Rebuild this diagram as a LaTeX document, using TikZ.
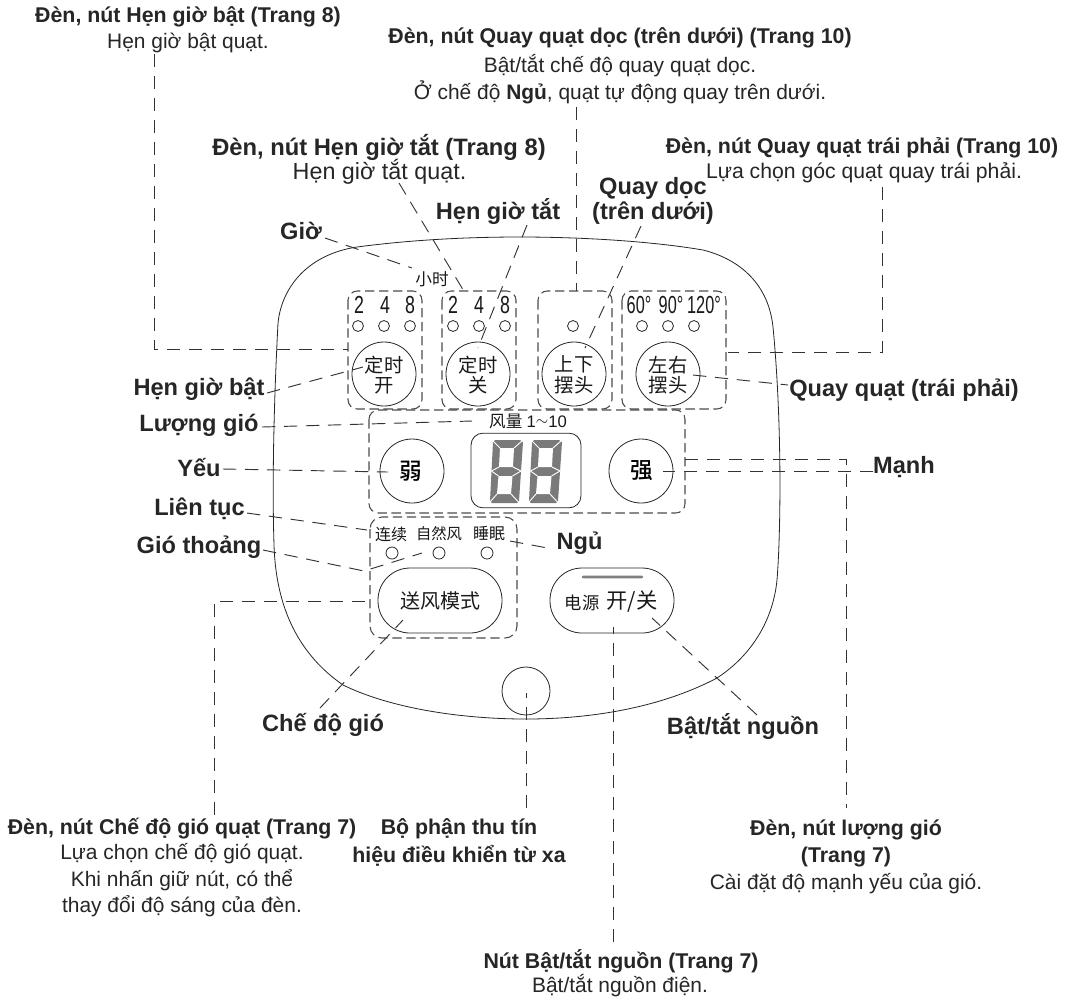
\documentclass[tikz,border=0pt]{standalone}
\usepackage{fontspec}
\setmainfont{Liberation Sans}
\newfontfamily\cjk{Noto Sans CJK SC}
\newfontfamily\cjkb{Noto Sans CJK SC Medium}
\tikzset{x=0.75pt,y=-0.75pt,
 lbl/.style={inner sep=0pt,align=center,text=black!85,font=\fontsize{#1}{#1}\selectfont\bfseries},
 lbl/.default=14,
 txt/.style={inner sep=0pt,align=center,text=black!85,font=\fontsize{#1}{#1}\selectfont},
 txt/.default=12,
 zh/.style={inner sep=0pt,align=center,text=black!90,font=\fontsize{#1}{#1}\selectfont\cjk},
 zh/.default=12,
 zhb/.style={inner sep=0pt,align=center,text=black,font=\fontsize{#1}{#1}\selectfont\cjkb},
 conn/.style={draw=black!80,line width=0.7pt,dash pattern=on 10pt off 6.5pt},
 groupbox/.style={draw=black!70,line width=0.8pt,dash pattern=on 7pt off 3.5pt,rounded corners=7pt},
 btn/.style={draw=black!85,line width=0.6pt,circle,minimum size=48pt,inner sep=0pt},
 led/.style={draw=black!85,line width=0.6pt,circle,minimum size=8.2pt,inner sep=0pt},
 num/.style={inner sep=0pt,text=black!90,font=\fontsize{18.5}{18.5}\selectfont},
 pill/.style={draw=black!85,line width=0.6pt,rounded corners=24pt,minimum width=93pt,minimum height=48.75pt,inner sep=0pt},
}
\newcommand{\digitat}[2]{%
 \begin{scope}[shift={(#1,#2)}]
  \fill[black!52] (5,0) -- (30,0) -- (33,2) -- (29,61) -- (27,63) -- (2,63) -- (0,61) -- (3,2) -- cycle;
  \fill[white] (10,8) -- (24,8) -- (23,27) -- (9,27) -- cycle;
  \fill[white] (8.5,36) -- (22.5,36) -- (21,54) -- (7,54) -- cycle;
  \draw[white,line width=0.7pt] (3,1) -- (10,8) (32,1) -- (24,8) (1.5,31) -- (9,27) (1.5,31) -- (8.5,36) (31,31) -- (23,27) (31,31) -- (22.5,36) (0,62) -- (7,54) (28.5,62) -- (21,54);
 \end{scope}}
\begin{document}
\begin{tikzpicture}
\useasboundingbox[fill=white] (0,0) rectangle (1066,997);
% body
\draw[line width=0.6pt,black!85] (520,237) .. controls (465,237) and (410,240) .. (357,247)
 .. controls (310,254) and (282,285) .. (278,323)
 .. controls (274,400) and (272,480) .. (274,545)
 .. controls (276,610) and (300,655) .. (343,685)
 .. controls (390,708) and (460,719) .. (526,719)
 .. controls (590,719) and (660,708) .. (717,678)
 .. controls (752,655) and (773,620) .. (777,580)
 .. controls (781,530) and (782,420) .. (773,327)
 .. controls (768,280) and (735,258) .. (703,250)
 .. controls (650,241) and (580,237) .. (520,237) -- cycle;
% group boxes
\draw[groupbox] (348,291) rectangle (422,409);
\draw[groupbox] (442,291) rectangle (516,409);
\draw[groupbox] (538,291) rectangle (612,409);
\draw[groupbox] (622,291) rectangle (726,409);
\draw[groupbox] (369,410) rectangle (685,513);
\draw[groupbox,rounded corners=9pt] (370,517) rectangle (517,638);
% buttons
\node[btn] (bOn) at (384,374) {}; \node[zh=14.5] (tOn) at (384,375) {定时\\[1pt]开};
\node[btn] (bOff) at (478,374) {}; \node[zh=14.5] (tOff) at (478,375) {定时\\[1pt]关};
\node[btn] (bUD) at (574,374) {}; \node[zh=14.5] (tUD) at (574,375) {上下\\[1pt]摆头};
\node[btn] (bLR) at (668,374) {}; \node[zh=14.5] (tLR) at (668,375) {左右\\[1pt]摆头};
\foreach \n/\x in {a/358,b/384,c/410,d/453,e/479,f/505,g/573,h/642,i/668,j/694}{\node[led] (led\n) at (\x,326) {};}
\foreach \n/\x/\t in {a/359/2,b/385/4,c/410/8,d/453/2,e/479/4,f/505/8}{\node[num] (num\n) at (\x,305) {\scalebox{.72}[1]{\t}};}
\foreach \n/\x/\t in {a/639/60°,b/671/90°,c/704/120°}{\node[num] (deg\n) at (\x,305) {\scalebox{.66}[1]{\t}};}
\node[zh=12.5] (hour) at (432,279) {小时};
% wind
\node[btn] (weak) at (412,471) {}; \node[zhb=17] (tWeak) at (411,471) {弱};
\node[btn] (strong) at (641,471) {}; \node[zhb=17] (tStrong) at (642,471) {强};
\node[zh=12.5] (wind) at (528,421) {风量\hspace{3pt}{\rmfamily\fontsize{12.5}{12.5}\selectfont 1\raisebox{1pt}{$\sim$}10}};
\node[draw=black!85,line width=0.6pt,rounded corners=9pt,minimum width=82.5pt,minimum height=56pt,inner sep=0pt] (disp) at (526,470.5) {};
\digitat{490}{440}
\digitat{529}{440}
% modes
\node[zh=12] (m1) at (391,534) {连续};
\node[zh=11.5] (m2) at (439,534) {自然风};
\node[zh=12] (m3) at (489,534) {睡眠};
\node[led,minimum size=9pt] (l1) at (392,553) {};
\node[led,minimum size=9pt] (l2) at (439,553) {};
\node[led,minimum size=9pt] (l3) at (487,553) {};
\node[pill] (mode) at (440,600.5) {};
\node[zh=15] (tMode) at (440,601) {送风模式};
\node[pill] (pow) at (612,600.5) {};
\node[inner sep=0pt,minimum width=46pt,minimum height=2.2pt,fill=black!50,rounded corners=1pt] (bar) at (612.5,577) {};
\node[zh=13] (tPow1) at (582,603) {电源};
\node[zh=16] (tPow2) at (632,601) {开/关};
\node[btn,minimum size=36pt] (recv) at (526,691) {};
% labels
\node[lbl=16] (L1) at (188,17) {Đèn, nút Hẹn giờ bật (Trang 8)};
\node[txt=15.7] (L1b) at (188,43) {Hẹn giờ bật quạt.};
\node[lbl=16] (L2) at (620,38) {Đèn, nút Quay quạt dọc (trên dưới) (Trang 10)};
\node[txt=15.7] (L2b) at (620,66) {Bật/tắt chế độ quay quạt dọc.};
\node[txt=15.7] (L2c) at (620,92) {Ở chế độ \textbf{Ngủ}, quạt tự động quay trên dưới.};
\node[lbl=17.8] (L3) at (379,147) {Đèn, nút Hẹn giờ tắt (Trang 8)};
\node[txt=17.5] (L3b) at (379.5,172) {Hẹn giờ tắt quạt.};
\node[lbl=16] (L4) at (862,148) {Đèn, nút Quay quạt trái phải (Trang 10)};
\node[txt=15.9] (L4b) at (864,173) {Lựa chọn góc quạt quay trái phải.};
\node[lbl=17.7] (L5) at (653,200.5) {Quay dọc\\[1pt](trên dưới)};
\node[lbl=17.7] (L6) at (498,211) {Hẹn giờ tắt};
\node[lbl=17.7] (L7) at (301,231) {Giờ};
\node[lbl=17.7] (L8) at (199,389) {Hẹn giờ bật};
\node[lbl=17.7] (L9) at (904,390) {Quay quạt (trái phải)};
\node[lbl=17.7] (L10) at (199,425) {Lượng gió};
\node[lbl=17.7] (L11) at (199,468) {Yếu};
\node[lbl=17.7] (L12) at (904,467) {Mạnh};
\node[lbl=17.7] (L13) at (199.5,509) {Liên tục};
\node[lbl=17.7] (L14) at (199,547) {Gió thoảng};
\node[lbl=17.7] (L15) at (579.5,543) {Ngủ};
\node[lbl=17.7] (L16) at (323,725) {Chế độ gió};
\node[lbl=17.7] (L17) at (743,726) {Bật/tắt nguồn};
\node[lbl=16] (L18) at (182,829) {Đèn, nút Chế độ gió quạt (Trang 7)};
\node[txt=15.7] (L18b) at (182,854) {Lựa chọn chế độ gió quạt.};
\node[txt=15.7] (L18c) at (182,880) {Khi nhấn giữ nút, có thể};
\node[txt=15.7] (L18d) at (182,906) {thay đổi độ sáng của đèn.};
\node[lbl=16] (L19) at (459,829) {Bộ phận thu tín};
\node[lbl=16] (L19b) at (459,856) {hiệu điều khiển từ xa};
\node[lbl=16] (L20) at (846,830) {Đèn, nút lượng gió};
\node[lbl=16] (L20b) at (846,857) {(Trang 7)};
\node[txt=15.7] (L20c) at (846,884) {Cài đặt độ mạnh yếu của gió.};
\node[lbl=16] (L21) at (621,961) {Nút Bật/tắt nguồn (Trang 7)};
\node[txt=15.7] (L21b) at (620,986) {Bật/tắt nguồn điện.};
% connector ends
\foreach \n/\x/\y in {
 a1/154/54, a2/154/349, a3/348/349,
 b1/576/107, b2/576/291,
 c1/882/187, c2/882/352, c3/728/352,
 d1/399/183, d2/465/293,
 e1/325/238, e2/412/268,
 f1/527/225, f2/478/348,
 g1/641/226, g2/585/348,
 h1/267/393, h2/363/367,
 i1/693/375, i2/788/385,
 j1/262/427, j2/472/421,
 k1/223/469, k2/388/472,
 l1/873/471, l2/663/471,
 m1/685/459, m2/846/459, m3/846/808,
 n1/247/513, n2/367/530,
 o1/263/550, o2/364/571, o3/422/553,
 p1/510/541, p2/553/549,
 q1/320/708, q2/403/620,
 r1/214/815, r2/214/601, r3/370/601,
 s1/526/808, s2/526/693,
 t1/613/942, t2/613/627,
 u1/757/715, u2/652/618}{\coordinate (\n) at (\x,\y);}
\draw[conn] (a1) -- (a2) -- (a3);
\draw[conn] (b1) -- (b2);
\draw[conn] (c1) -- (c2) -- (c3);
\draw[conn] (d1) -- (d2);
\draw[conn] (e1) -- (e2);
\draw[conn] (f1) -- (f2);
\draw[conn] (g1) -- (g2);
\draw[conn] (h1) -- (h2);
\draw[conn] (i1) -- (i2);
\draw[conn] (j1) -- (j2);
\draw[conn] (k1) -- (k2);
\draw[conn] (l1) -- (l2);
\draw[conn] (m1) -- (m2) -- (m3);
\draw[conn] (n1) -- (n2);
\draw[conn] (o1) -- (o2) -- (o3);
\draw[conn] (p1) -- (p2);
\draw[conn] (q1) -- (q2);
\draw[conn] (r1) -- (r2) -- (r3);
\draw[conn] (s1) -- (s2);
\draw[conn] (t1) -- (t2);
\draw[conn] (u1) -- (u2);
\end{tikzpicture}
\end{document}
